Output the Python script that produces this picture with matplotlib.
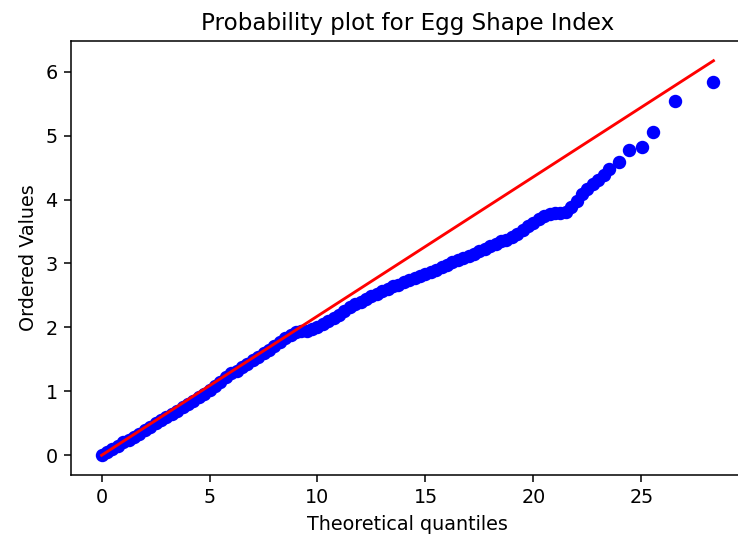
import numpy as np
import matplotlib
matplotlib.use("Agg")
import matplotlib.pyplot as plt

# theoretical quantiles (x) and ordered values (y)
osm = [0.0, 0.25, 0.5, 0.75, 1.0, 1.25, 1.5, 1.75, 2.0, 2.25, 2.5, 2.75,
       3.0, 3.25, 3.5, 3.75, 4.0, 4.25, 4.5, 4.75, 5.0, 5.25, 5.5, 5.75,
       6.0, 6.25, 6.5, 6.75, 7.0, 7.25, 7.5, 7.75, 8.0, 8.25, 8.5, 8.75,
       9.0, 9.25, 9.5, 9.75, 10.0, 10.25, 10.5, 10.75, 11.0, 11.25, 11.5, 11.75,
       12.0, 12.25, 12.5, 12.75, 13.0, 13.25, 13.5, 13.75, 14.0, 14.25, 14.5, 14.75,
       15.0, 15.25, 15.5, 15.75, 16.0, 16.25, 16.5, 16.75, 17.0, 17.25, 17.5, 17.75,
       18.0, 18.25, 18.5, 18.75, 19.0, 19.25, 19.5, 19.75, 20.0, 20.25, 20.5, 20.75,
       21.0, 21.25, 21.5, 21.75, 22.0, 22.25, 22.5, 22.75, 23.0, 23.25, 23.5,
       23.96, 24.43, 25.01, 25.54, 26.56, 28.34]
osr = [0.0, 0.05, 0.10, 0.15, 0.20, 0.24, 0.29, 0.34, 0.40, 0.45, 0.50, 0.55,
       0.60, 0.65, 0.70, 0.75, 0.80, 0.85, 0.91, 0.96, 1.02, 1.08, 1.15, 1.22,
       1.28, 1.32, 1.38, 1.43, 1.49, 1.54, 1.60, 1.65, 1.71, 1.77, 1.83, 1.88,
       1.93, 1.95, 1.95, 1.97, 2.00, 2.05, 2.10, 2.15, 2.20, 2.26, 2.32, 2.36,
       2.40, 2.45, 2.49, 2.53, 2.57, 2.60, 2.64, 2.67, 2.71, 2.74, 2.78, 2.81,
       2.84, 2.86, 2.89, 2.94, 2.98, 3.02, 3.05, 3.08, 3.12, 3.15, 3.19, 3.22,
       3.27, 3.31, 3.35, 3.37, 3.41, 3.46, 3.52, 3.58, 3.63, 3.69, 3.74, 3.78,
       3.79, 3.79, 3.80, 3.88, 3.98, 4.08, 4.16, 4.24, 4.30, 4.38, 4.48,
       4.58, 4.77, 4.82, 5.05, 5.54, 5.83]

# fitted line endpoints
fit_x = [0.0, 28.34]
fit_y = [0.0, 6.17]

dpi = 138
fig = plt.figure(figsize=(738 / dpi, 542 / dpi), dpi=dpi)
# right edge of the axes sits just past the picture, as in the screenshot
ax = fig.add_axes([0.0962, 0.1236, 0.912, 0.8007])
ax.plot(osm, osr, 'bo')
ax.plot(fit_x, fit_y, 'r-')
ax.set_title('Probability plot for Egg Shape Index')
ax.set_xlabel('Theoretical quantiles')
ax.set_ylabel('Ordered Values')
fig.savefig('out.png', dpi=dpi)
